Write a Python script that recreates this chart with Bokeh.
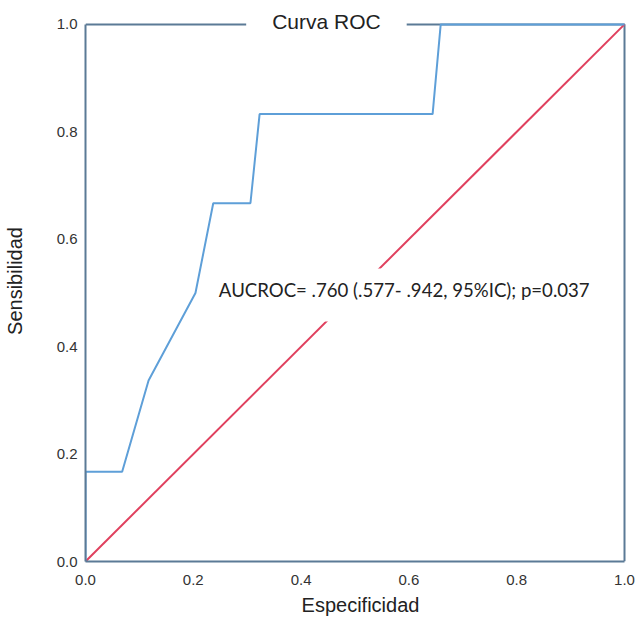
from bokeh.plotting import figure
from bokeh.models import Label, FixedTicker
from bokeh.embed import file_html
from bokeh.resources import INLINE

# ROC curve (1 - especificidad on x, sensibilidad on y)
roc_x = [0.0, 0.0, 0.068, 0.117, 0.204, 0.237, 0.306, 0.323, 0.644, 0.659, 1.0]
roc_y = [0.0, 0.167, 0.167, 0.337, 0.5, 0.667, 0.667, 0.833, 0.833, 1.0, 1.0]
ref_x = [0.0, 1.0]
ref_y = [0.0, 1.0]
ticks = [0.0, 0.2, 0.4, 0.6, 0.8, 1.0]
tick_labels = ["0.0", "0.2", "0.4", "0.6", "0.8", "1.0"]
title_text = "Curva ROC"
annot_text = "AUCROC= .760 (.577- .942, 95%IC); p=0.037"
x_label = "Especificidad"
y_label = "Sensibilidad"

FRAME = "#5b7a96"
CURVE = "#5e9fd8"
REF = "#e0405e"
TXT = "#222222"

lo, hi = ticks[0], ticks[-1]
# frame extends slightly beyond the unit square so that the box's top/right
# edges and the title are drawn inside it
p = figure(width=635, height=618, x_range=(lo, hi + 0.0204),
           y_range=(lo, hi + 0.0445),
           output_backend="svg", toolbar_location=None,
           min_border_left=85, min_border_right=0, min_border_top=0,
           min_border_bottom=55)
p.grid.visible = False
p.outline_line_color = None
p.background_fill_color = "white"
p.border_fill_color = "white"

for ax in (p.xaxis[0], p.yaxis[0]):
    ax.ticker = FixedTicker(ticks=ticks)
    ax.major_label_overrides = {t: l for t, l in zip(ticks, tick_labels)}
    ax.bounds = (lo, hi)
    ax.axis_line_color = FRAME
    ax.axis_line_width = 2
    ax.major_tick_line_color = None
    ax.minor_tick_line_color = None
    ax.major_tick_out = 0
    ax.major_tick_in = 0
    ax.major_label_text_font = "Liberation Sans"
    ax.major_label_text_font_size = "15px"
    ax.major_label_text_color = "#333333"
    ax.axis_label_text_font = "Liberation Sans"
    ax.axis_label_text_font_size = "20px"
    ax.axis_label_text_font_style = "normal"
    ax.axis_label_text_color = TXT
p.xaxis.major_label_standoff = 13
p.yaxis.major_label_standoff = 8
p.xaxis.axis_label = x_label
p.yaxis.axis_label = y_label
p.xaxis.axis_label_standoff = 6
p.yaxis.axis_label_standoff = 28

# top and right edges of the box
p.line([lo, hi, hi], [hi, hi, lo], line_color=FRAME, line_width=2)

p.line(ref_x, ref_y, line_color=REF, line_width=2)
p.line(roc_x, roc_y, line_color=CURVE, line_width=2)

annot = Label(x=0.24, y=0.496, text=annot_text, text_align="left",
              text_baseline="middle", text_font="Lato", text_font_size="18.6px",
              text_color=TXT, background_fill_color="white",
              padding=dict(left=4, right=4, top=10, bottom=21))
p.add_layout(annot)

title = Label(x=0.447, y=hi, y_offset=3, text=title_text, text_align="center",
              text_baseline="middle", text_font="Liberation Sans",
              text_font_size="21px", text_color=TXT,
              background_fill_color="white",
              padding=dict(left=26, right=26, top=2, bottom=2))
p.add_layout(title)

open("out.html", "w").write(file_html(p, INLINE))
